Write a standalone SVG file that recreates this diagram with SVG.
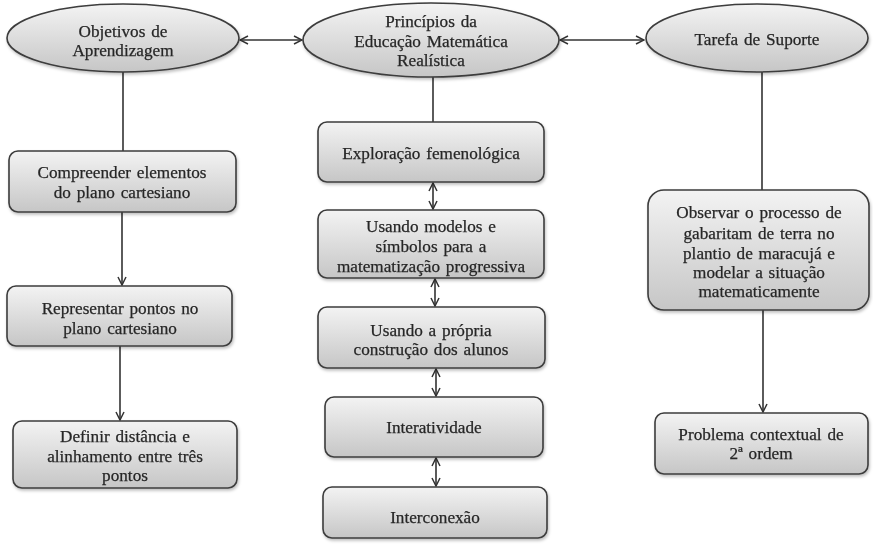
<svg xmlns="http://www.w3.org/2000/svg" width="873" height="551" viewBox="0 0 873 551">
<style>
.n{fill:url(#g);stroke:#3c3c3c;stroke-width:1.6}
.t{font-family:"Liberation Serif","Times New Roman",serif;font-size:17.2px;fill:#262626;stroke:#262626;stroke-width:0.25;text-anchor:middle;word-spacing:1.5px}
.c{stroke:#333;stroke-width:1.6;fill:none}
</style>
<defs>
<linearGradient id="g" x1="0" y1="0" x2="0" y2="1">
<stop offset="0" stop-color="#f3f3f3"/>
<stop offset="1" stop-color="#c6c6c6"/>
</linearGradient>
<filter id="s" x="-10%" y="-10%" width="120%" height="130%">
<feDropShadow dx="1" dy="2" stdDeviation="1.5" flood-color="#000" flood-opacity="0.25"/>
</filter>
<marker id="a" viewBox="0 0 10 10" refX="9" refY="5" markerWidth="10" markerHeight="10" markerUnits="userSpaceOnUse" orient="auto-start-reverse">
<path d="M1,1 L9,5 L1,9" fill="none" stroke="#333" stroke-width="1.5"/>
</marker>
</defs>
<rect width="873" height="551" fill="#fff"/>
<g id="connectors">
<line class="c" x1="240" y1="40" x2="302" y2="40" marker-start="url(#a)" marker-end="url(#a)"/>
<line class="c" x1="560" y1="40" x2="644" y2="40" marker-start="url(#a)" marker-end="url(#a)"/>
<line class="c" x1="123" y1="72" x2="123" y2="151"/>
<line class="c" x1="122" y1="212" x2="122" y2="285" marker-end="url(#a)"/>
<line class="c" x1="120" y1="346" x2="120" y2="420" marker-end="url(#a)"/>
<line class="c" x1="433" y1="77" x2="433" y2="122"/>
<line class="c" x1="433" y1="183" x2="433" y2="209" marker-start="url(#a)" marker-end="url(#a)"/>
<line class="c" x1="435" y1="279" x2="435" y2="306" marker-start="url(#a)" marker-end="url(#a)"/>
<line class="c" x1="436" y1="369" x2="436" y2="396" marker-start="url(#a)" marker-end="url(#a)"/>
<line class="c" x1="436" y1="458" x2="436" y2="486" marker-start="url(#a)" marker-end="url(#a)"/>
<line class="c" x1="762" y1="72" x2="762" y2="190"/>
<line class="c" x1="763" y1="310" x2="763" y2="412" marker-end="url(#a)"/>
</g>
<g id="objetivos" filter="url(#s)">
<ellipse class="n" cx="123" cy="38" rx="116" ry="34"/>
<text class="t" x="123" y="37">Objetivos de</text>
<text class="t" x="123" y="56">Aprendizagem</text>
</g>
<g id="principios" filter="url(#s)">
<ellipse class="n" cx="431" cy="40" rx="128" ry="37"/>
<text class="t" x="431" y="27">Princípios da</text>
<text class="t" x="431" y="47">Educação Matemática</text>
<text class="t" x="431" y="66">Realística</text>
</g>
<g id="tarefa" filter="url(#s)">
<ellipse class="n" cx="757" cy="38" rx="111" ry="34"/>
<text class="t" x="757" y="45">Tarefa de Suporte</text>
</g>
<g id="compreender" filter="url(#s)">
<rect class="n" x="9" y="151" width="227" height="61" rx="9"/>
<text class="t" x="122" y="178">Compreender  elementos</text>
<text class="t" x="122" y="198">do plano cartesiano</text>
</g>
<g id="representar" filter="url(#s)">
<rect class="n" x="7" y="286" width="225" height="60" rx="9"/>
<text class="t" x="120" y="314">Representar pontos no</text>
<text class="t" x="120" y="334">plano cartesiano</text>
</g>
<g id="definir" filter="url(#s)">
<rect class="n" x="13" y="421" width="224" height="67" rx="9"/>
<text class="t" x="125" y="442">Definir distância e</text>
<text class="t" x="125" y="462">alinhamento entre três</text>
<text class="t" x="125" y="481">pontos</text>
</g>
<g id="exploracao" filter="url(#s)">
<rect class="n" x="318" y="122" width="226" height="60" rx="9"/>
<text class="t" x="431" y="159">Exploração femenológica</text>
</g>
<g id="usando-modelos" filter="url(#s)">
<rect class="n" x="318" y="210" width="226" height="68" rx="9"/>
<text class="t" x="431" y="232">Usando modelos e</text>
<text class="t" x="431" y="252">símbolos para a</text>
<text class="t" x="431" y="272">matematização progressiva</text>
</g>
<g id="usando-construcao" filter="url(#s)">
<rect class="n" x="318" y="307" width="227" height="61" rx="9"/>
<text class="t" x="431" y="336">Usando a própria</text>
<text class="t" x="431" y="355">construção dos alunos</text>
</g>
<g id="interatividade" filter="url(#s)">
<rect class="n" x="325" y="397" width="218" height="60" rx="9"/>
<text class="t" x="434" y="433">Interatividade</text>
</g>
<g id="interconexao" filter="url(#s)">
<rect class="n" x="323" y="487" width="224" height="51" rx="9"/>
<text class="t" x="435" y="523">Interconexão</text>
</g>
<g id="observar" filter="url(#s)">
<rect class="n" x="648" y="190" width="221" height="120" rx="16"/>
<text class="t" x="759" y="218">Observar o processo de</text>
<text class="t" x="759" y="239">gabaritam de terra no</text>
<text class="t" x="759" y="259">plantio de maracujá e</text>
<text class="t" x="759" y="278">modelar a situação</text>
<text class="t" x="759" y="297">matematicamente</text>
</g>
<g id="problema" filter="url(#s)">
<rect class="n" x="655" y="413" width="213" height="61" rx="9"/>
<text class="t" x="761" y="440">Problema  contextual de</text>
<text class="t" x="761" y="459">2ª ordem</text>
</g>
</svg>
